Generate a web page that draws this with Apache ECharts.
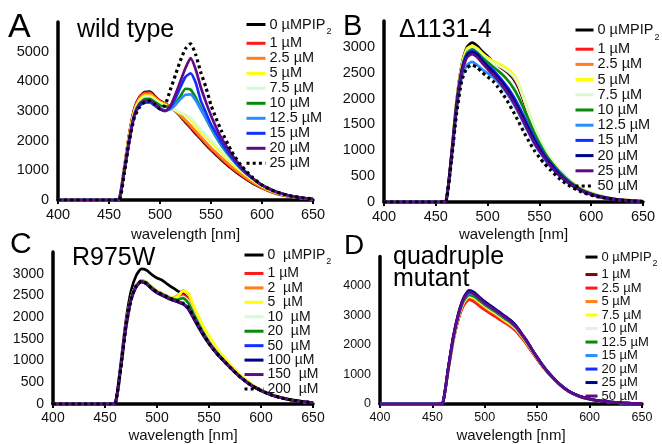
<!DOCTYPE html>
<html><head><meta charset="utf-8">
<script src="https://cdn.jsdelivr.net/npm/echarts@6/dist/echarts.min.js"></script>
<style>html,body{margin:0;padding:0;background:#fff}#c{width:662px;height:444px}</style>
</head><body><div id="c"></div>
<script>
// wavelength sample points (nm)
const WL = [400,455,460,465,470,475,480,485,490,495,500,505,510,515,520,525,530,535,540,545,550,555,560,570,580,590,600,610,620,630,640,650];

// Panel A: wild type
const A_LABELS = ['0 µMPIP','1 µM','2.5 µM','5 µM','7.5 µM','10 µM','12.5 µM','15 µM','20 µM','25 µM'];
const A_0   = [0,0,30,1100,2250,3100,3480,3640,3650,3500,3340,3250,3150,3000,2820,2620,2430,2230,2050,1860,1680,1520,1360,1060,800,580,400,260,160,100,60,30];
const A_1   = [0,0,30,1100,2250,3080,3460,3610,3620,3480,3330,3250,3150,3000,2840,2650,2460,2270,2080,1890,1710,1550,1390,1090,830,600,410,270,170,100,60,30];
const A_2_5 = [0,0,30,1080,2220,3050,3420,3570,3580,3450,3310,3240,3150,3010,2860,2690,2510,2320,2130,1940,1760,1600,1440,1130,860,620,420,270,170,100,60,30];
const A_5   = [0,0,30,1050,2180,3000,3370,3510,3520,3400,3280,3200,3120,3020,2920,2850,2700,2500,2300,2120,1950,1770,1600,1250,950,690,470,300,190,110,60,30];
const A_7_5 = [0,0,30,1030,2150,2960,3320,3460,3470,3360,3250,3170,3100,3030,2950,2880,2760,2580,2380,2200,2020,1840,1660,1300,990,720,490,320,200,120,70,30];
const A_10  = [0,0,30,1000,2100,2900,3260,3400,3410,3300,3190,3150,3150,3250,3500,3750,3720,3450,3100,2750,2420,2120,1850,1400,1030,740,500,330,210,120,70,30];
const A_12_5= [0,0,30,980,2050,2850,3180,3280,3290,3190,3080,3020,3060,3200,3400,3550,3560,3350,3050,2750,2450,2150,1880,1430,1060,760,510,340,210,120,70,30];
const A_15  = [0,0,30,980,2050,2850,3180,3290,3300,3180,3060,3000,3120,3420,3800,4150,4270,3950,3350,2950,2550,2250,1950,1450,1050,750,500,330,210,120,70,30];
const A_20  = [0,0,30,980,2050,2880,3230,3340,3350,3230,3090,3000,3150,3550,4000,4450,4780,4400,3800,3300,2850,2450,2100,1550,1100,750,500,330,210,120,70,30];
const A_25  = [0,0,0,900,2000,2800,3130,3300,3340,3230,3070,3200,3700,4200,4700,5100,5260,4900,4300,3800,3200,2750,2350,1650,1150,785,505,330,200,120,70,40];

// Panel B: Δ1131-4
const B_LABELS = ['0 µMPIP','1 µM','2.5 µM','5 µM','7.5 µM','10 µM','12.5 µM','15 µM','20 µM','25 µM','50 µM'];
const B_0   = [0,0,30,900,1950,2650,2990,3080,3020,2910,2820,2720,2640,2570,2490,2380,2200,1940,1660,1400,1180,990,830,580,390,255,165,105,65,40,25,15];
const B_1   = [0,0,30,900,1930,2620,2940,3010,2960,2860,2780,2710,2640,2580,2510,2410,2240,1970,1690,1420,1200,1000,840,590,395,258,168,107,66,40,25,15];
const B_2_5 = [0,0,30,890,1920,2610,2930,3000,2950,2850,2780,2720,2660,2610,2540,2430,2260,1990,1700,1430,1210,1010,850,595,400,260,170,108,66,40,25,15];
const B_5   = [0,0,30,900,1940,2630,2960,3020,2970,2870,2790,2730,2680,2630,2560,2470,2290,2010,1720,1450,1230,1030,860,600,405,262,172,110,68,40,25,15];
const B_7_5 = [0,0,30,890,1910,2590,2910,2980,2930,2830,2750,2690,2640,2590,2520,2430,2260,1990,1710,1440,1220,1020,855,598,402,260,170,108,66,40,25,15];
const B_10  = [0,0,30,880,1890,2570,2880,2950,2890,2790,2700,2620,2540,2450,2340,2200,2020,1800,1570,1340,1140,960,810,570,385,250,163,104,64,38,23,14];
const B_12_5= [0,0,25,800,1750,2400,2650,2710,2650,2560,2490,2420,2320,2200,2060,1900,1720,1520,1320,1130,970,830,700,490,330,215,140,90,55,33,20,10];
const B_15  = [0,0,30,870,1880,2540,2850,2920,2860,2740,2640,2560,2450,2330,2200,2040,1860,1660,1450,1250,1070,910,770,540,360,235,153,98,60,36,22,12];
const B_20  = [0,0,30,860,1860,2530,2830,2900,2850,2730,2620,2520,2410,2290,2150,1990,1800,1600,1400,1200,1030,880,750,520,350,230,150,95,60,35,20,10];
const B_25  = [0,0,30,850,1840,2500,2790,2860,2800,2680,2570,2470,2360,2230,2090,1930,1740,1540,1340,1150,990,850,720,500,340,222,145,92,57,34,20,10];
const B_50  = [0,0,20,780,1700,2340,2590,2650,2600,2500,2420,2340,2220,2080,1920,1740,1550,1350,1170,1000,860,740,630,440,300,200,130,85,55,35,20,10];

// Panel C: R975W
const C_LABELS = ['0  µMPIP','1 µM','2  µM','5  µM','10  µM','20  µM','50  µM','100 µM','150  µM','200  µM'];
const C_0   = [0,0,30,900,1900,2600,2960,3110,3080,2980,2900,2850,2760,2680,2600,2540,2420,2150,1900,1680,1480,1310,1160,890,650,460,320,215,145,92,55,30];
const C_1   = [0,0,25,820,1780,2430,2730,2840,2800,2690,2600,2540,2480,2430,2430,2510,2420,2140,1890,1670,1470,1300,1150,885,645,455,318,213,143,90,54,30];
const C_2   = [0,0,25,820,1780,2430,2730,2840,2800,2690,2600,2540,2480,2440,2500,2610,2540,2240,1970,1740,1530,1350,1190,910,665,470,325,218,146,92,55,30];
const C_5   = [0,0,25,820,1780,2430,2730,2840,2800,2690,2600,2540,2480,2440,2480,2600,2560,2280,2010,1770,1560,1380,1210,925,675,475,330,220,148,93,56,30];
const C_10  = [0,0,25,815,1770,2420,2720,2830,2790,2680,2590,2530,2470,2420,2420,2470,2370,2110,1860,1640,1450,1280,1130,870,635,450,315,212,142,90,54,30];
const C_20  = [0,0,25,815,1770,2420,2720,2830,2790,2680,2590,2530,2470,2420,2400,2440,2330,2080,1840,1620,1430,1265,1120,865,632,448,314,211,141,90,54,30];
const C_50  = [0,0,25,810,1760,2400,2700,2810,2760,2650,2560,2500,2440,2390,2350,2310,2200,1990,1770,1570,1390,1235,1095,845,618,438,308,207,138,88,53,30];
const C_100 = [0,0,25,810,1760,2400,2700,2810,2760,2650,2560,2500,2440,2390,2350,2300,2190,1980,1760,1560,1385,1230,1090,843,616,437,307,206,138,88,53,30];
const C_150 = [0,0,25,810,1760,2400,2710,2820,2770,2660,2570,2510,2450,2400,2360,2310,2210,2000,1780,1580,1400,1240,1100,850,620,440,310,208,139,89,54,30];
const C_200 = [0,0,20,800,1750,2400,2720,2830,2780,2660,2580,2520,2460,2410,2370,2320,2230,2020,1800,1590,1400,1240,1100,850,620,440,310,210,140,90,55,30];

// Panel D: quadruple mutant
const D_LABELS = ['0 µMPIP','1 µM','2.5 µM','5 µM','7.5 µM','10 µM','12.5 µM','15 µM','20 µM','25 µM','50 µM'];
const D_0   = [0,0,50,1160,2240,3000,3490,3690,3630,3490,3350,3230,3120,2990,2860,2730,2570,2340,2090,1820,1555,1305,1080,708,430,264,165,102,63,39,24,14];
const D_1   = [0,0,50,1130,2180,2920,3390,3580,3510,3370,3230,3110,3000,2880,2760,2640,2490,2270,2040,1780,1525,1285,1070,700,425,260,163,100,62,38,23,14];
const D_2_5 = [0,0,50,1120,2160,2890,3350,3540,3460,3320,3190,3070,2960,2840,2730,2610,2460,2250,2020,1760,1510,1275,1065,698,423,259,162,100,61,37,23,14];
const D_5   = [0,0,50,1140,2200,2950,3430,3620,3560,3420,3280,3160,3050,2920,2790,2670,2520,2300,2060,1800,1540,1295,1075,704,428,262,164,101,62,38,24,14];
const D_7_5 = [0,0,50,1150,2220,2970,3460,3650,3590,3450,3310,3190,3080,2950,2820,2700,2540,2320,2080,1810,1550,1300,1078,706,429,263,164,101,62,38,24,14];
const D_10  = [0,0,50,1160,2240,2990,3480,3680,3620,3480,3340,3220,3110,2980,2850,2720,2560,2340,2090,1820,1555,1305,1080,708,430,264,165,102,63,39,24,14];
const D_12_5= [0,0,50,1170,2250,3010,3500,3700,3640,3500,3360,3240,3130,3000,2870,2740,2580,2350,2100,1830,1560,1310,1085,710,432,265,166,102,63,39,24,14];
const D_15  = [0,0,50,1180,2270,3050,3550,3760,3700,3560,3410,3290,3170,3040,2910,2780,2610,2370,2120,1840,1570,1315,1090,712,435,266,167,103,64,40,25,15];
const D_20  = [0,0,50,1190,2290,3080,3600,3820,3750,3600,3450,3320,3200,3070,2940,2810,2630,2390,2140,1850,1580,1320,1095,715,437,268,168,104,64,40,25,15];
const D_25  = [0,0,50,1200,2300,3100,3620,3850,3780,3620,3470,3340,3220,3090,2960,2830,2650,2400,2150,1860,1590,1330,1100,720,440,270,170,105,65,40,25,15];
const D_50  = [0,0,50,1180,2280,3060,3570,3790,3720,3570,3420,3300,3180,3050,2920,2790,2620,2380,2130,1845,1575,1318,1092,713,436,267,168,104,64,40,25,15];

// colours (styles kept separate from data)
const COL_A = ['#000000','#ff1a1a','#ff7f1a','#ffff00','#d8f8d8','#0a8a0a','#2a8cff','#1030ff','#600a88','#000000'];
const COL_B = ['#000000','#ff1a1a','#ff7f1a','#ffff00','#d8f8d8','#0a8a0a','#2a8cff','#1030ff','#000088','#600a88','#000000'];
const COL_C = ['#000000','#ff1a1a','#ff7f1a','#ffff00','#d8f8d8','#0a8a0a','#1030ff','#000088','#600a88','#000000'];
const COL_D = ['#000000','#8b0000','#ff1a1a','#ff7f1a','#ffff00','#d8f8d8','#0a8a0a','#2a8cff','#1030ff','#000088','#600a88'];

const FONT = '"Liberation Sans", Arial, Helvetica, sans-serif';
const TXT = '#111';

const panels = [
  {id:'A', labels:A_LABELS, data:[A_0,A_1,A_2_5,A_5,A_7_5,A_10,A_12_5,A_15,A_20,A_25], colors:COL_A, dotted:9,
   grid:{left:58, top:22, width:255, height:178}, ymax:6000, yint:1000, fs:14.5, nameGap:27,
   lg:{left:245, top:17, w:19, row:14.6, fs:14.5}},
  {id:'B', labels:B_LABELS, data:[B_0,B_1,B_2_5,B_5,B_7_5,B_10,B_12_5,B_15,B_20,B_25,B_50], colors:COL_B, dotted:10,
   grid:{left:384, top:21, width:259, height:181}, ymax:3500, yint:500, fs:14.5, nameGap:25,
   lg:{left:574, top:22.4, w:18, row:15.2, fs:14.5}},
  {id:'C', labels:C_LABELS, data:[C_0,C_1,C_2,C_5,C_10,C_20,C_50,C_100,C_150,C_200], colors:COL_C, dotted:9,
   grid:{left:53, top:252, width:260, height:153}, ymax:3500, yint:500, fs:14, nameGap:24,
   lg:{left:243, top:247.8, w:19, row:14.44, fs:14}},
  {id:'D', labels:D_LABELS, data:[D_0,D_1,D_2_5,D_5,D_7_5,D_10,D_12_5,D_15,D_20,D_25,D_50], colors:COL_D, dotted:-1,
   grid:{left:380, top:256.5, width:262, height:148.5}, ymax:5000, yint:1000, fs:12.5, nameGap:24,
   lg:{left:584, top:250.3, w:12, row:13.5, fs:13}}
];

const grids=[], xAxes=[], yAxes=[], series=[], legends=[];
panels.forEach((p,i)=>{
  grids.push(Object.assign({containLabel:false}, p.grid));
  xAxes.push({type:'value', gridIndex:i, min:400, max:650, interval:50,
    name:'wavelength [nm]', nameLocation:'middle', nameGap:p.nameGap,
    nameTextStyle:{fontSize:15, fontFamily:FONT, color:TXT},
    axisLine:{onZero:false, lineStyle:{color:'#000', width:3.5}},
    axisTick:{show:true, length:4, lineStyle:{color:'#000', width:2}},
    axisLabel:{fontSize:p.fs, fontFamily:FONT, color:TXT, margin:7, formatter:(v)=>String(v)},
    splitLine:{show:false}});
  yAxes.push({type:'value', gridIndex:i, min:0, max:p.ymax, interval:p.yint,
    axisLine:{show:true, onZero:false, lineStyle:{color:'#000', width:3.5}},
    axisTick:{show:false},
    axisLabel:{showMaxLabel:false, fontSize:p.fs, fontFamily:FONT, color:TXT, margin:9, formatter:(v)=>String(v)},
    splitLine:{show:false}});
  const names=[];
  p.data.forEach((arr,k)=>{
    const nm = p.id+':'+p.labels[k];
    names.push(nm);
    const dotted = (k===p.dotted);
    series.push({type:'line', name:nm, xAxisIndex:i, yAxisIndex:i,
      data: WL.map((x,j)=>[x, arr[j]]),
      symbol:'none', showSymbol:false, smooth:0.2, silent:true,
      lineStyle:{color:p.colors[k], width: dotted?3.2:2.7, type: dotted?[3,3.2]:'solid'},
      itemStyle:{color:p.colors[k]},
      emphasis:{disabled:true}, animation:false, z:2+k*0.01});
  });
  legends.push({orient:'vertical', left:p.lg.left, top:p.lg.top, padding:0, itemGap:0,
    itemWidth:p.lg.w, itemHeight:p.lg.row, selectedMode:false, data:names,
    itemStyle:{opacity:0, borderWidth:0},
    lineStyle:{width:3},
    formatter:(n)=>{const l=n.slice(2); return l.indexOf('PIP')>=0 ? '{m|'+l+'}{s|2}' : l;},
    textStyle:{fontSize:p.lg.fs, fontFamily:FONT, color:TXT, lineHeight:p.lg.row, padding:[0,0,0,-1],
      rich:{m:{fontSize:p.lg.fs, fontFamily:FONT, color:TXT, lineHeight:p.lg.row},
            s:{fontSize:9, fontFamily:FONT, color:TXT, verticalAlign:'bottom', padding:[0,0,-4,1]}}}});
});

function txt(x,y,t,fs){return {type:'text', left:x, top:y, silent:true,
  style:{text:t, fontSize:fs, fontFamily:FONT, fill:'#000'}};}

const chart = echarts.init(document.getElementById('c'), null, {renderer:'canvas'});
chart.setOption({
  animation:false, backgroundColor:'#fff',
  grid:grids, xAxis:xAxes, yAxis:yAxes, series:series, legend:legends,
  graphic:[
    txt(8,11,'A',34), txt(77,18,'wild type',25),
    txt(343,12,'B',29), txt(399,18,'Δ1131-4',25),
    txt(10,230,'C',30), txt(72,246,'R975W',25),
    txt(344,232,'D',28), txt(393,245,'quadruple',25), txt(393,267,'mutant',25)
  ]
});
</script></body></html>
